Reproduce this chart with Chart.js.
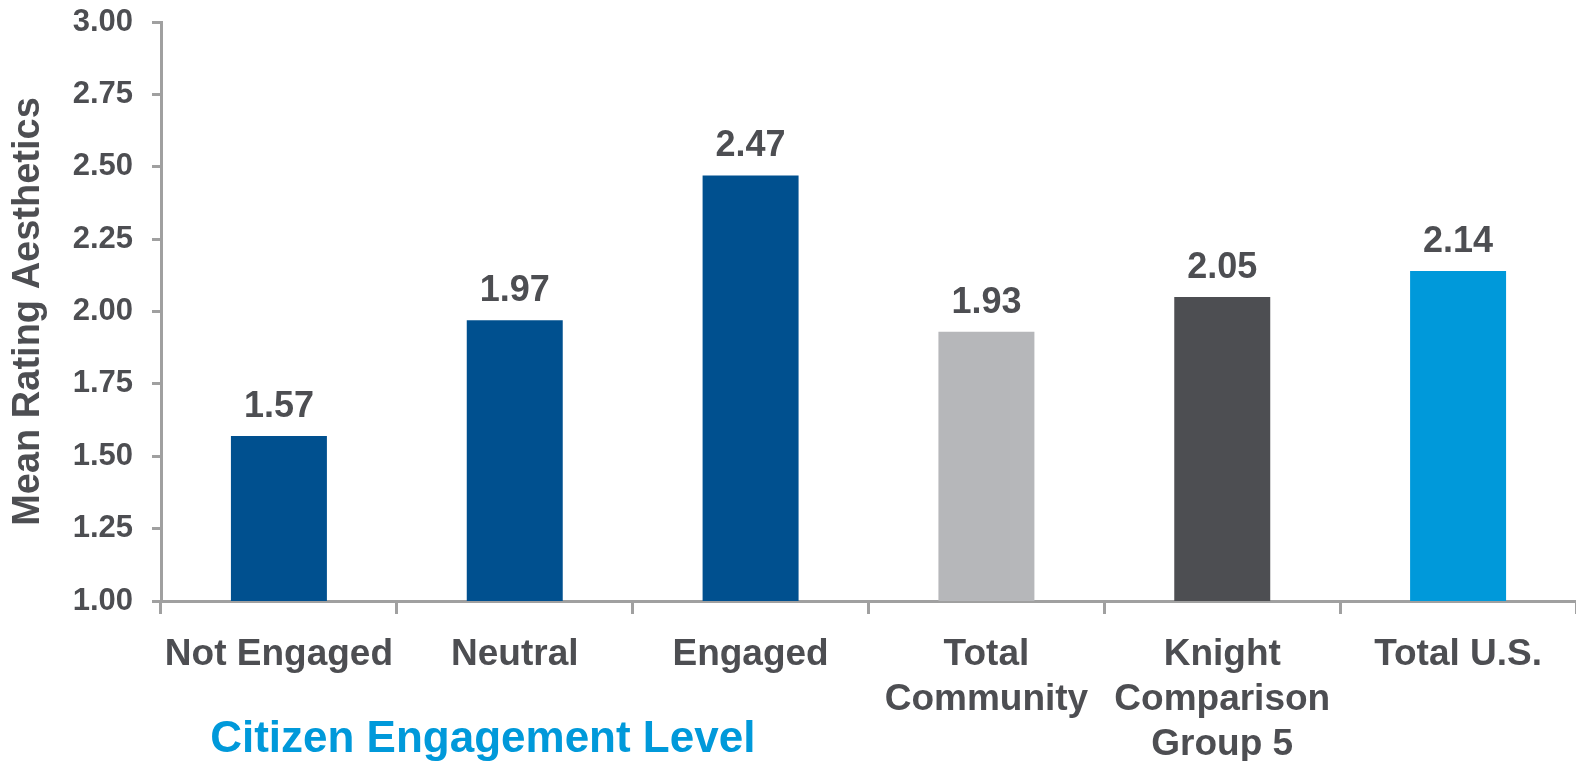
<!DOCTYPE html>
<html>
<head>
<meta charset="utf-8">
<title>Mean Rating Aesthetics</title>
<script src="https://cdn.jsdelivr.net/npm/chart.js@4.4.1/dist/chart.umd.min.js"></script>
<style>
  html, body { margin: 0; padding: 0; background: #fff; }
  #wrap { position: relative; width: 1576px; height: 761px; }
</style>
</head>
<body>
<div id="wrap"><canvas id="chart-aesthetics"></canvas></div>
<script>
  // datos
  var categories = [
    ['Not Engaged'],
    ['Neutral'],
    ['Engaged'],
    ['Total', 'Community'],
    ['Knight', 'Comparison', 'Group 5'],
    ['Total U.S.']
  ];
  var meanRatings = [1.57, 1.97, 2.47, 1.93, 2.05, 2.14];
  var barColors = ['#00508F', '#00508F', '#00508F', '#B6B7BA', '#4D4E52', '#0099DA'];
  var yTickValues = [1.00, 1.25, 1.50, 1.75, 2.00, 2.25, 2.50, 2.75, 3.00];
  var groupCaption = 'Citizen Engagement Level';

  var textColor = '#4D4E52';
  var axisColor = '#A0A0A0';
  var fontFamily = '"Liberation Sans", Arial, sans-serif';

  var valueLabels = {
    id: 'valueLabels',
    afterDatasetsDraw: function (chart) {
      var ctx = chart.ctx;
      var meta = chart.getDatasetMeta(0);
      ctx.save();
      ctx.font = 'bold 36px ' + fontFamily;
      ctx.fillStyle = textColor;
      ctx.textAlign = 'center';
      ctx.textBaseline = 'alphabetic';
      meta.data.forEach(function (bar, i) {
        ctx.fillText(meanRatings[i].toFixed(2), bar.x, bar.y - 19);
      });

      // leyenda del grupo bajo las tres primeras categorias
      var xs = chart.scales.x;
      ctx.font = 'bold 44px ' + fontFamily;
      ctx.fillStyle = '#0099DA';
      ctx.fillText(groupCaption, xs.getPixelForValue(1) - 32, 752);
      ctx.restore();
    }
  };

  new Chart(document.getElementById('chart-aesthetics'), {
    type: 'bar',
    data: {
      labels: categories,
      datasets: [{
        data: meanRatings,
        backgroundColor: barColors,
        borderWidth: 0,
        barPercentage: 0.407,
        categoryPercentage: 1.0
      }]
    },
    options: {
      responsive: true,
      maintainAspectRatio: false,
      animation: false,
      layout: { padding: 0 },
      plugins: {
        legend: { display: false },
        tooltip: { enabled: false }
      },
      scales: {
        x: {
          grid: {
            display: true,
            drawOnChartArea: false,
            drawTicks: true,
            tickLength: 13,
            color: axisColor,
            lineWidth: 3,
            offset: true
          },
          border: { color: axisColor, width: 3 },
          ticks: {
            color: textColor,
            font: { family: fontFamily, size: 37, weight: 'bold', lineHeight: 1.22 },
            padding: 18,
            maxRotation: 0,
            autoSkip: false
          },
          afterFit: function (scale) { scale.height = 160; }
        },
        y: {
          min: 1,
          max: 3,
          afterBuildTicks: function (scale) {
            scale.ticks = yTickValues.map(function (v) { return { value: v }; });
          },
          grid: {
            display: true,
            drawOnChartArea: false,
            drawTicks: true,
            tickLength: 9,
            color: axisColor,
            lineWidth: 3
          },
          border: { color: axisColor, width: 3 },
          ticks: {
            color: textColor,
            font: { family: fontFamily, size: 31, weight: 'bold' },
            padding: 19,
            callback: function (v) { return Number(v).toFixed(2); }
          },
          title: {
            display: true,
            text: 'Mean Rating Aesthetics',
            color: textColor,
            font: { family: fontFamily, size: 38, weight: 'bold' },
            padding: { top: 6, bottom: 0 }
          },
          afterFit: function (scale) {
            scale.width = 161;
            scale.paddingTop = 22;
            scale.paddingBottom = 0;
          }
        }
      }
    },
    plugins: [valueLabels]
  });
</script>
</body>
</html>
